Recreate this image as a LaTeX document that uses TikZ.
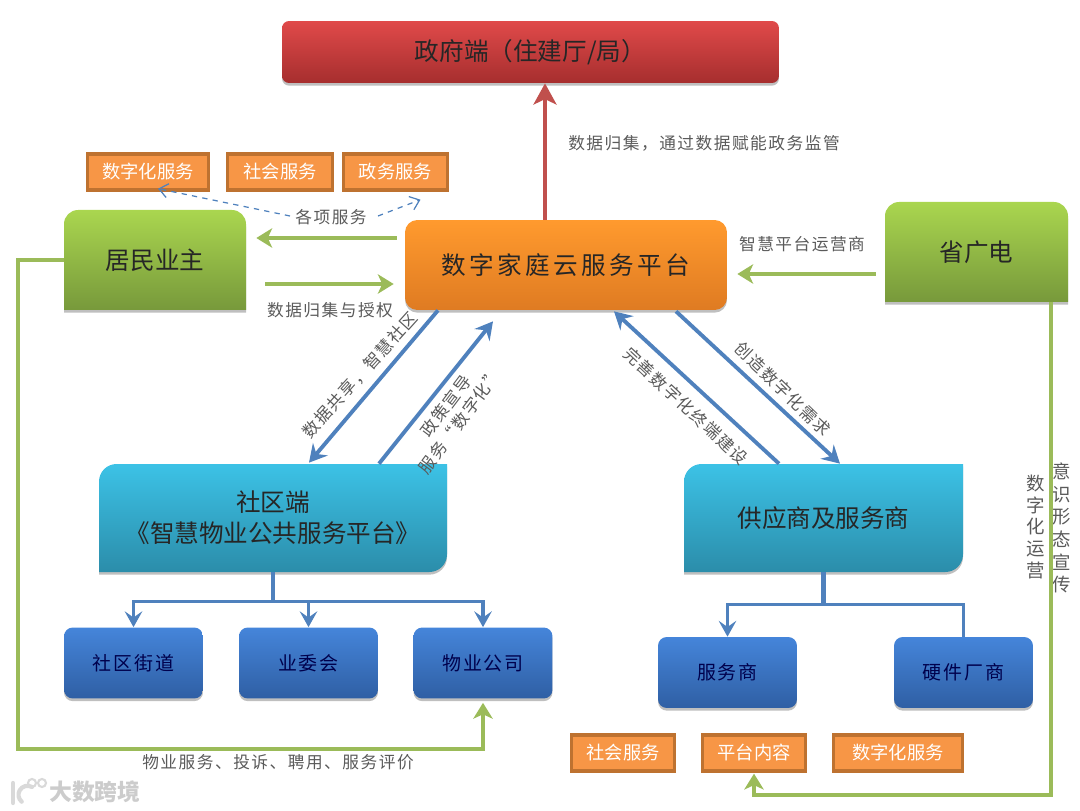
\documentclass[tikz,border=0pt]{standalone}
\usepackage{fontspec}
\setmainfont{Noto Sans CJK SC}
\newfontfamily\spacedfont[LetterSpace=9]{Noto Sans CJK SC}
\newfontfamily\widefont[LetterSpace=14]{Noto Sans CJK SC}
\usetikzlibrary{arrows.meta,shadows,calc}

\definecolor{lineblue}{HTML}{4F81BD}
\definecolor{linegreen}{HTML}{9BBB59}
\definecolor{linered}{HTML}{C0504D}
\definecolor{tagfill}{HTML}{F79646}
\definecolor{tagedge}{HTML}{BE7230}
\definecolor{labelgrey}{HTML}{5A5A5A}
\definecolor{redtop}{HTML}{E04A4A}
\definecolor{redlow}{HTML}{A62E2E}
\definecolor{orangetop}{HTML}{FF9A2E}
\definecolor{orangelow}{HTML}{DF7B22}
\definecolor{greentop}{HTML}{AAD64F}
\definecolor{greenlow}{HTML}{77993B}
\definecolor{cyantop}{HTML}{3CC2E6}
\definecolor{cyanlow}{HTML}{2B8DAA}
\definecolor{bluetop}{HTML}{4585DA}
\definecolor{bluelow}{HTML}{2F5FA4}

\begin{document}
\begin{tikzpicture}[x=0.02cm,y=-0.02cm]
        \useasboundingbox (0,0) rectangle (1080,811);

        \tikzset{softshadow/.style={drop shadow={shadow xshift=0pt,shadow yshift=-1.5pt,opacity=.25,fill=black}}}
        \tikzset{bigtext/.style={font=\fontsize{14}{17.6}\selectfont,text=black!85,align=center}}
        \tikzset{redbox/.style={rectangle,rounded corners=4pt,softshadow,top color=redtop,bottom color=redlow,bigtext,minimum width=9.94cm,minimum height=1.24cm}}
        \tikzset{orangebox/.style={rectangle,rounded corners=7pt,softshadow,top color=orangetop,bottom color=orangelow,bigtext,minimum width=6.44cm,minimum height=1.8cm}}
        \tikzset{bluebox/.style={rectangle,rounded corners=5pt,softshadow,top color=bluetop,bottom color=bluelow,
            font=\spacedfont\fontsize{10.8}{13}\selectfont,text=black!70!blue,minimum width=2.78cm,minimum height=1.42cm}}
        \tikzset{tagbox/.style={rectangle,fill=tagfill,draw=tagedge,line width=1.9pt,text=white,font=\fontsize{10.4}{12}\selectfont,minimum height=.72cm}}
        \tikzset{linelabel/.style={text=labelgrey,font=\spacedfont\fontsize{9.5}{12}\selectfont,inner sep=0pt}}
        \tikzset{stacklabel/.style={text=labelgrey,font=\fontsize{10.5}{12.4}\selectfont,align=center,inner sep=0pt}}

        \tikzset{greenline/.style={draw=linegreen,line width=2.2pt}}
        \tikzset{greenarrow/.style={greenline,-{Stealth[length=9pt,width=11pt,inset=2.5pt]}}}
        \tikzset{bluearrow/.style={draw=lineblue,line width=2.2pt,-{Stealth[length=10pt,width=11pt,inset=3.5pt]}}}
        \tikzset{treeline/.style={draw=lineblue,line width=2pt}}
        \tikzset{treearrow/.style={treeline,-{Stealth[length=9pt,width=10pt,inset=3.5pt]}}}
        \tikzset{dashedarrow/.style={draw=lineblue,line width=.7pt,dashed,-{Straight Barb[length=5pt,width=8pt]}}}

        %% The side boxes have only some corners round, so their
        %% bodies are plain paths and the names sit on empty nodes.
        \path[softshadow,top color=greentop,bottom color=greenlow]
          (64,310) [rounded corners=8pt] -- (64,210) -- (246,210) [sharp corners] -- (246,310) -- cycle;
        \path[softshadow,top color=greentop,bottom color=greenlow]
          (885,302) [rounded corners=8pt] -- (885,202) -- (1068,202) [sharp corners] -- (1068,302) -- cycle;
        \path[softshadow,top color=cyantop,bottom color=cyanlow]
          (99,572) [rounded corners=10pt] -- (99,464) [sharp corners] -- (447,464) [rounded corners=10pt] -- (447,572) [sharp corners] -- cycle;
        \path[softshadow,top color=cyantop,bottom color=cyanlow]
          (684,572) [rounded corners=10pt] -- (684,464) [sharp corners] -- (963,464) [rounded corners=10pt] -- (963,572) [sharp corners] -- cycle;

        %% Main boxes
        \node[redbox] (government) at (530.5,52) {\raisebox{-1.2pt}{政府端（住建厅/局）}};
        \node[orangebox] (platform) at (566,265) {{\widefont 数字家庭云服务平台}};
        \node[bigtext,minimum width=3.64cm,minimum height=2cm] (resident) at (155,260) {\raisebox{-1pt}{居民业主}};
        \node[bigtext,minimum width=3.66cm,minimum height=2cm] (province) at (976.5,252) {省广电};
        \node[bigtext,minimum width=6.96cm,minimum height=2.16cm] (community) at (273,518) {社区端\\《智慧物业公共服务平台》};
        \node[bigtext,minimum width=5.58cm,minimum height=2.16cm] (supplier) at (823.5,518) {供应商及服务商};

        %% Children of the two lower boxes
        \node[bluebox] (street) at (133.5,663) {社区街道};
        \node[bluebox] (committee) at (308.5,663) {业委会};
        \node[bluebox] (estate) at (483,663) {物业公司};
        \node[bluebox] (vendor) at (727.5,672.5) {服务商};
        \node[bluebox] (hardware) at (963.5,672.5) {硬件厂商};

        %% Orange tags
        \node[tagbox,minimum width=2.42cm] (tagdigital) at (148,172) {数字化服务};
        \node[tagbox,minimum width=2.1cm] (tagsocial) at (280,172) {社会服务};
        \node[tagbox,minimum width=2.08cm] (taggov) at (395.5,172) {政务服务};
        \node[tagbox,minimum width=2.06cm] (tagsociallow) at (623,753) {社会服务};
        \node[tagbox,minimum width=2.06cm] (tagcontent) at (754,753) {平台内容};
        \node[tagbox,minimum width=2.58cm] (tagdigitallow) at (898,753) {数字化服务};

        %% Labels that float by the connectors
        \node[linelabel] (labelgov) at (704,143) {数据归集，通过数据赋能政务监管};
        \node[linelabel] (labelitems) at (331,217) {各项服务};
        \node[linelabel] (labeldata) at (330,310) {数据归集与授权};
        \node[linelabel] (labelop) at (802,244) {智慧平台运营商};
        \node[linelabel,rotate=48] (labelshare) at (360,375) {数据共享，智慧社区};
        \node[linelabel,rotate=53] (labelpolicy) at (446,406) {政策宣导};
        \node[linelabel,rotate=53] (labelserve) at (460,421) {服务“数字化”};
        \node[linelabel,rotate=-43] (labelterminal) at (686,406) {完善数字化终端建设};
        \node[linelabel,rotate=-44] (labelneed) at (783,389) {创造数字化需求};
        \node[linelabel] (labelevaluate) at (278,762) {物业服务、投诉、聘用、服务评价};
        \node[stacklabel] (labelrun) at (1036,527) {数\\字\\化\\运\\营};
        \node[stacklabel,font=\fontsize{10.5}{12.9}\selectfont] (labelidea) at (1062,528) {意\\识\\形\\态\\宣\\传};

        %% Connectors
        \draw[draw=linered,line width=2.8pt,-{Stealth[length=12pt,width=13pt,inset=3pt]}] (platform.north -| 545,0) -- (government.south -| 545,0);
        \draw[greenarrow] ([shift={(-8,-27)}]platform.west) -- ([shift={(10,-22)}]resident.east);
        \draw[greenarrow] ([shift={(19,24)}]resident.east) -- ([shift={(-11,19)}]platform.west);
        \draw[greenarrow] ([shift={(-9,22)}]province.west) -- ([shift={(10,9)}]platform.east);
        \draw[bluearrow] ([shift={(-128,0)}]platform.south) -- ([shift={(36,-1)}]community.north);
        \draw[bluearrow] ([shift={(106,0)}]community.north) -- ([shift={(-73,11)}]platform.south);
        \draw[bluearrow] ([shift={(-44.5,0)}]supplier.north) -- ([shift={(48,1)}]platform.south);
        \draw[bluearrow] ([shift={(110,1)}]platform.south) -- ([shift={(16.5,0)}]supplier.north);
        \draw[dashedarrow] (labelitems.west) ++(-5,-1) -- ([shift={(10,-3)}]tagdigital.south);
        \draw[dashedarrow] (labelitems.east) ++(11,-1) -- ([shift={(25,8)}]taggov.south);

        %% Trees under the lower boxes
        \draw[treeline,line width=2.6pt] (community.south) -- ++(0,29) coordinate (communityfork);
        \foreach \child in {street,committee,estate}
          \draw[treearrow] (communityfork) -| (\child.north);
        \draw[treeline,line width=2.6pt] (supplier.south) -- ++(0,32) coordinate (supplierfork);
        \draw[treearrow] (supplierfork) -| (vendor.north);
        \draw[treeline] (supplierfork) -| (hardware.north);

        %% The two long green lines
        \draw[greenarrow] (resident.west) -- ++(-46,0) -- ++(0,489) -| ([shift={(0,4)}]estate.south);
        \draw[greenarrow] ([shift={(74.5,0)}]province.south) -- ++(0,493) -| ([shift={(0,1)}]tagcontent.south);

        %% Watermark
        \tikzset{watermark/.style={draw=black!15,line width=2.4pt,line cap=round}}
        \draw[watermark] (13,783) -- (13,803);
        \draw[watermark] (32,787) arc (-60:-230:9);
        \draw[watermark,line width=1.2pt] (32,783) circle (4);
        \draw[watermark,line width=1.2pt] (42,783) circle (4);
        \node[text=black!20,font=\bfseries\fontsize{13}{15}\selectfont,inner sep=0pt] (markname) at (95,792) {大数跨境};
      \end{tikzpicture}
\end{document}
